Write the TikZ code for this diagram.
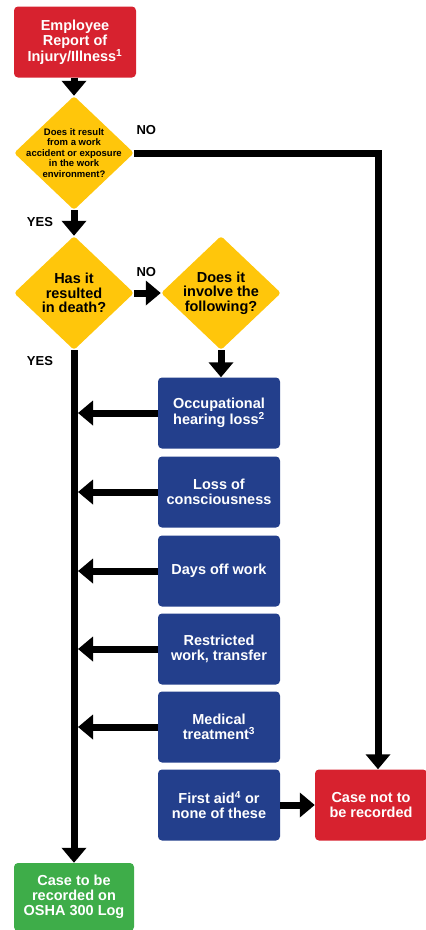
\documentclass[tikz,border=0pt]{standalone}
\usepackage{fontspec}
\setmainfont{Liberation Sans}
\usetikzlibrary{shapes.geometric,arrows.meta}

\definecolor{oshared}{HTML}{D7222F}
\definecolor{oshayellow}{HTML}{FFC60B}
\definecolor{oshablue}{HTML}{233F8C}
\definecolor{oshagreen}{HTML}{3EAD49}

\tikzset{
	box/.style={rectangle, rounded corners=4pt, minimum width=122pt, minimum height=71pt,
		align=center, text=white, font=\bfseries\fontsize{14.5}{15}\selectfont},
	decision/.style={diamond, rounded corners=3pt, fill=oshayellow, minimum width=120pt,
		minimum height=114pt, inner sep=-8pt, align=center, text=black},
	flow/.style={line width=7pt, -{Triangle[width=24pt,length=15pt]}},
	answer/.style={font=\bfseries\fontsize{13}{13}\selectfont}
}

\begin{document}
\begin{tikzpicture}[x=1pt, y=-1pt]
			\useasboundingbox (0, 0) rectangle (426, 930);

			\node[box, fill=oshared] (report) at (75, 42) {Employee\\Report of\\Injury/Illness\textsuperscript{1}};

			\node[decision, font=\bfseries\fontsize{9.5}{10.5}\selectfont] (work) at (74, 153)
				{Does it result\\from a work\\accident or exposure\\in the work\\environment?};
			\node[decision, font=\bfseries\fontsize{14.5}{14.5}\selectfont] (death) at (74, 293) {Has it\\resulted\\in death?};
			\node[decision, font=\bfseries\fontsize{14.5}{14.5}\selectfont] (involve) at (221, 293) {Does it\\involve the\\following?};

			\node[box, fill=oshablue] (hearing) at (219, 413) {Occupational\\hearing loss\textsuperscript{2}};
			\node[box, fill=oshablue] (conscious) at (219, 492) {Loss of\\consciousness};
			\node[box, fill=oshablue] (daysoff) at (219, 571) {Days off work};
			\node[box, fill=oshablue] (restricted) at (219, 649) {Restricted\\work, transfer};
			\node[box, fill=oshablue] (medical) at (219, 727) {Medical\\treatment\textsuperscript{3}};
			\node[box, fill=oshablue] (firstaid) at (219, 805) {First aid\textsuperscript{4} or\\none of these};

			\node[box, fill=oshared, minimum width=112pt] (notrec) at (371, 805) {Case not to\\be recorded};
			\node[box, fill=oshagreen, minimum width=120pt, minimum height=68pt] (recorded) at (74, 897)
				{Case to be\\recorded on\\OSHA 300 Log};

			\draw[flow]	(report.south -| work.north) to (work.north);
			\draw[flow]	(work.south) to (death.north);
			\draw[flow]	(death.east) to (involve.west);
			\draw[flow]	(involve.south) to (involve.south |- hearing.north);
			\draw[flow]	(death.south) to (recorded.north);
			\draw[flow]	(work.east) -| ([xshift=7pt]notrec.north);
			\draw[flow]	(firstaid.east) to (notrec.west);

			\foreach \item in {hearing, conscious, daysoff, restricted, medical}
				\draw[flow]	(\item.west) to ([xshift=4pt]death.south |- \item.west);

			\node[answer, anchor=west] (workno) at (133, 130) {NO};
			\node[answer, anchor=west] (deathno) at (133, 272) {NO};
			\node[answer] (workyes) at (40, 222) {YES};
			\node[answer] (deathyes) at (40, 361) {YES};
		\end{tikzpicture}
\end{document}
